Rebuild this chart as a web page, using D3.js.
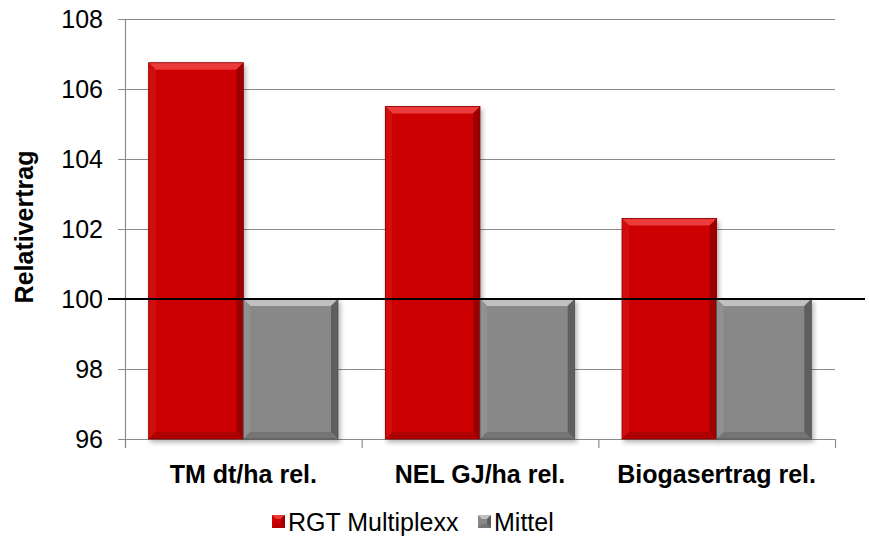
<!DOCTYPE html>
<html>
<head>
<meta charset="utf-8">
<script src="https://cdn.jsdelivr.net/npm/d3@7"></script>
<style>
  body { margin: 0; background: #fff; }
  svg { display: block; font-family: "Liberation Sans", Arial, sans-serif; }
</style>
</head>
<body>
<svg id="chart" width="869" height="541"></svg>
<script>
// ── Data ─────────────────────────────────────────────────────────
const CATEGORIES = ['TM dt/ha rel.', 'NEL GJ/ha rel.', 'Biogasertrag rel.'];
const SERIES     = ['RGT Multiplexx', 'Mittel'];
const RGT_VALUES = [106.75, 105.5, 102.3];
const MITTEL_VALUES = [100, 100, 100];
const Y_TICKS    = [96, 98, 100, 102, 104, 106, 108];

const COLORS = {
  'RGT Multiplexx': { main: '#cc0000', top: '#ec3a3a', left: '#d10d0d', right: '#9c0000', bottom: '#ae0000' },
  'Mittel':         { main: '#888888', top: '#c0c0c0', left: '#919191', right: '#5e5e5e', bottom: '#747474' },
};

const margin = { top: 19, left: 125, right: 34, bottom: 102 };
const W = 869, H = 541;
const iW = W - margin.left - margin.right;
const iH = H - margin.top - margin.bottom;

const svg = d3.select('#chart');
const g = svg.append('g').attr('transform', `translate(${margin.left},${margin.top})`);

const y = d3.scaleLinear().domain([96, 108]).range([iH, 0]);
const x0 = d3.scaleBand().domain(CATEGORIES).range([0, iW]).paddingInner(0).paddingOuter(0);
// Excel gap width 50% → bars take 2/(2+0.5) of category
const gapFrac = 0.5 / 2.5;
const x1 = d3.scaleBand().domain(SERIES)
  .range([x0.bandwidth() * gapFrac / 2, x0.bandwidth() * (1 - gapFrac / 2)]);

// shadow filter
const defs = svg.append('defs');
const f = defs.append('filter').attr('id', 'shadow').attr('x', '-10%').attr('y', '-10%').attr('width', '130%').attr('height', '130%');
f.append('feGaussianBlur').attr('in', 'SourceAlpha').attr('stdDeviation', 2.5);
f.append('feOffset').attr('dx', 2).attr('dy', 3).attr('result', 'b');
f.append('feComponentTransfer').append('feFuncA').attr('type', 'linear').attr('slope', 0.3);
const fm = f.append('feMerge');
fm.append('feMergeNode');
fm.append('feMergeNode').attr('in', 'SourceGraphic');

// gridlines
g.append('g').selectAll('line').data(Y_TICKS).join('line')
  .attr('x1', -7).attr('x2', iW)
  .attr('y1', d => y(d) + 0.5).attr('y2', d => y(d) + 0.5)
  .attr('stroke', '#8c8c8c').attr('stroke-width', 1.2);

// tick labels
g.append('g').selectAll('text').data(Y_TICKS).join('text')
  .attr('x', -22).attr('y', d => y(d))
  .attr('text-anchor', 'end').attr('dominant-baseline', 'central')
  .attr('font-size', 25).attr('fill', '#000')
  .text(d => d);

// axes lines
g.append('line').attr('x1', 0.5).attr('x2', 0.5).attr('y1', 0).attr('y2', iH + 9)
  .attr('stroke', '#8c8c8c').attr('stroke-width', 1.2);
g.append('g').selectAll('line').data(d3.range(CATEGORIES.length + 1)).join('line')
  .attr('x1', i => i * x0.step() + 0.5).attr('x2', i => i * x0.step() + 0.5)
  .attr('y1', iH).attr('y2', iH + 9)
  .attr('stroke', '#8c8c8c').attr('stroke-width', 1.2);

// bars
const rows = CATEGORIES.map((c, i) => ({ cat: c, vals: [RGT_VALUES[i], MITTEL_VALUES[i]] }));
const bev = 7;
const catG = g.selectAll('.cat').data(rows).join('g')
  .attr('transform', d => `translate(${x0(d.cat)},0)`);

const bars = catG.selectAll('.bar').data(d => SERIES.map((s, j) => ({ s, v: d.vals[j] }))).join('g')
  .attr('class', 'bar')
  .attr('filter', 'url(#shadow)');

bars.each(function (d) {
  const el = d3.select(this);
  const c = COLORS[d.s];
  const x = x1(d.s), w = x1.bandwidth();
  const t = y(d.v), b = y(96), h = b - t;
  el.append('rect').attr('x', x).attr('y', t).attr('width', w).attr('height', h).attr('fill', c.main);
  const pts = (arr) => arr.map(p => p.join(',')).join(' ');
  el.append('polygon').attr('fill', c.top)
    .attr('points', pts([[x, t], [x + w, t], [x + w - bev, t + bev], [x + bev, t + bev]]));
  el.append('polygon').attr('fill', c.left)
    .attr('points', pts([[x, t], [x + bev, t + bev], [x + bev, b - bev], [x, b]]));
  el.append('polygon').attr('fill', c.right)
    .attr('points', pts([[x + w, t], [x + w - bev, t + bev], [x + w - bev, b - bev], [x + w, b]]));
  el.append('polygon').attr('fill', c.bottom)
    .attr('points', pts([[x, b], [x + bev, b - bev], [x + w - bev, b - bev], [x + w, b]]));
  el.append('rect').attr('x', x).attr('y', t).attr('width', w).attr('height', h)
    .attr('fill', 'none').attr('stroke', d3.color(c.right).darker(0.4)).attr('stroke-width', 0.8);
});

// reference line at 100
g.append('line')
  .attr('x1', -17).attr('x2', W - margin.left - 4)
  .attr('y1', y(100)).attr('y2', y(100))
  .attr('stroke', '#000').attr('stroke-width', 2);

// category labels
g.append('g').selectAll('text').data(CATEGORIES).join('text')
  .attr('x', d => x0(d) + x0.bandwidth() / 2)
  .attr('y', iH + 35)
  .attr('text-anchor', 'middle').attr('dominant-baseline', 'central')
  .attr('font-size', 25).attr('font-weight', 'bold')
  .text(d => d);

// y title
svg.append('text')
  .attr('transform', `translate(24,227) rotate(-90)`)
  .attr('text-anchor', 'middle').attr('dominant-baseline', 'central')
  .attr('font-size', 25).attr('font-weight', 'bold')
  .text('Relativertrag');

// legend
const legend = svg.append('g').attr('transform', 'translate(0,521)');
const legendX = [272, 478];
SERIES.forEach((s, i) => {
  const c = COLORS[s];
  const lg = legend.append('g').attr('transform', `translate(${legendX[i]},0)`);
  lg.append('rect').attr('x', 0).attr('y', -6).attr('width', 13).attr('height', 13).attr('fill', c.main);
  lg.append('polygon').attr('fill', c.top).attr('points', '0,-6 13,-6 9,-2 4,-2');
  lg.append('polygon').attr('fill', c.right).attr('points', '13,-6 9,-2 9,3 13,7');
  lg.append('polygon').attr('fill', c.bottom).attr('points', '0,7 4,3 9,3 13,7');
  lg.append('text').attr('x', 16).attr('y', 1)
    .attr('dominant-baseline', 'central').attr('font-size', 25)
    .text(s);
});
</script>
</body>
</html>
